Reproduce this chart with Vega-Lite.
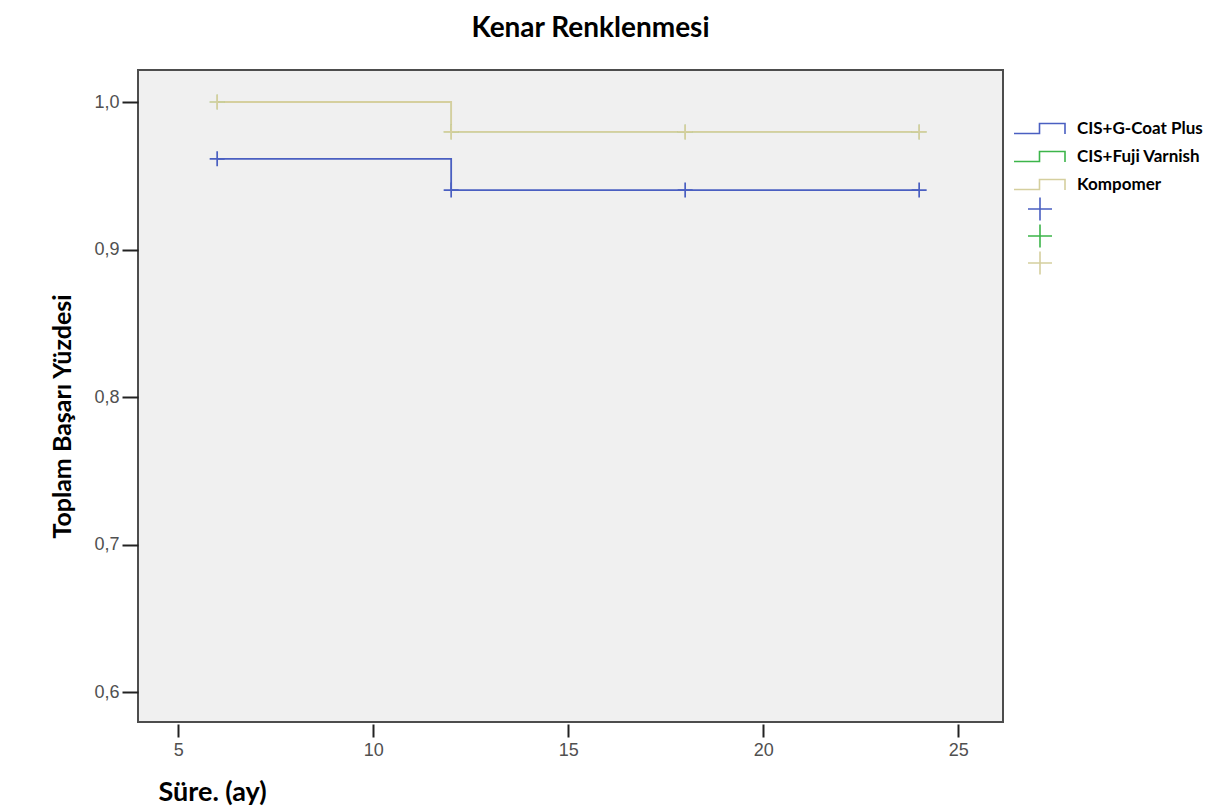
{
  "$schema": "https://vega.github.io/schema/vega-lite/v6.json",
  "width": 865,
  "height": 652,
  "autosize": {"type": "none"},
  "padding": {"left": 138, "top": 70, "right": 222, "bottom": 90},
  "background": "white",
  "title": {
    "text": "Kenar Renklenmesi",
    "font": "Lato",
    "fontSize": 28,
    "fontWeight": "bold",
    "color": "#000000",
    "anchor": "middle",
    "dx": 20,
    "baseline": "alphabetic",
    "offset": 5
  },
  "config": {
    "view": {"fill": "#f0f0f0", "stroke": "#4d4d4d", "strokeWidth": 2}
  },
  "data": {
    "values": [
      {"grp": "CIS+G-Coat Plus", "month": 6, "surv": 0.9615},
      {"grp": "CIS+G-Coat Plus", "month": 12, "surv": 0.9403},
      {"grp": "CIS+G-Coat Plus", "month": 24, "surv": 0.9403},
      {"grp": "CIS+Fuji Varnish", "month": 6, "surv": 1.0},
      {"grp": "CIS+Fuji Varnish", "month": 12, "surv": 0.9797},
      {"grp": "CIS+Fuji Varnish", "month": 24, "surv": 0.9797},
      {"grp": "\u00a0Kompomer", "month": 6, "surv": 1.0},
      {"grp": "\u00a0Kompomer", "month": 12, "surv": 0.9797},
      {"grp": "\u00a0Kompomer", "month": 24, "surv": 0.9797}
    ]
  },
  "datasets": {
    "cens": [
      {"k": "p1", "month": 6, "surv": 0.9615},
      {"k": "p1", "month": 12, "surv": 0.9403},
      {"k": "p1", "month": 18, "surv": 0.9403},
      {"k": "p1", "month": 24, "surv": 0.9403},
      {"k": "p2", "month": 6, "surv": 1.0},
      {"k": "p2", "month": 12, "surv": 0.9797},
      {"k": "p2", "month": 18, "surv": 0.9797},
      {"k": "p2", "month": 24, "surv": 0.9797},
      {"k": "p3", "month": 6, "surv": 1.0},
      {"k": "p3", "month": 12, "surv": 0.9797},
      {"k": "p3", "month": 18, "surv": 0.9797},
      {"k": "p3", "month": 24, "surv": 0.9797}
    ]
  },
  "encoding": {
    "x": {
      "field": "month",
      "type": "quantitative",
      "scale": {"domain": [3.97, 26.15], "nice": false, "zero": false},
      "axis": {
        "title": "Süre. (ay)",
        "values": [5, 10, 15, 20, 25],
        "grid": false,
        "domain": false,
        "tickSize": 13,
        "tickColor": "#222222",
        "tickWidth": 2,
        "offset": 2,
        "labelFont": "Liberation Sans",
        "labelFontSize": 18,
        "labelColor": "#505050",
        "labelPadding": 4,
        "titleFont": "Lato",
        "titleFontSize": 27,
        "titleFontWeight": "bold",
        "titleColor": "#000000",
        "titleAnchor": "start",
        "titleAlign": "left",
        "titleX": 20,
        "titleY": 76,
        "titleBaseline": "alphabetic"
      }
    },
    "y": {
      "field": "surv",
      "type": "quantitative",
      "scale": {"domain": [0.5797, 1.0217], "nice": false, "zero": false},
      "axis": {
        "title": "Toplam Başarı Yüzdesi",
        "values": [0.6, 0.7, 0.8, 0.9, 1.0],
        "labelExpr": "replace(format(datum.value, '.1f'), '.', ',')",
        "grid": false,
        "domain": false,
        "tickSize": 16,
        "tickColor": "#222222",
        "tickWidth": 2,
        "labelFont": "Liberation Sans",
        "labelFontSize": 18,
        "labelColor": "#505050",
        "labelPadding": 3,
        "titleFont": "Lato",
        "titleFontSize": 25,
        "titleFontWeight": "bold",
        "titleColor": "#000000",
        "titleAngle": -90,
        "titleAlign": "center",
        "titleBaseline": "middle",
        "titleX": -76,
        "titleY": 346
      }
    }
  },
  "layer": [
    {
      "transform": [{"filter": "datum.grp == 'CIS+Fuji Varnish'"}],
      "mark": {"type": "line", "interpolate": "step-after", "strokeWidth": 0.5},
      "encoding": {
        "color": {
          "field": "grp",
          "type": "nominal",
          "scale": {
            "domain": ["CIS+G-Coat Plus", "CIS+Fuji Varnish", "\u00a0Kompomer"],
            "range": ["#4a5fc1", "#3cb54a", "#d5cf9e"]
          }
        }
      }
    },
    {
      "transform": [{"filter": "datum.grp != 'CIS+Fuji Varnish'"}],
      "mark": {"type": "line", "interpolate": "step-after", "strokeWidth": 1.8},
      "encoding": {
        "color": {
          "field": "grp",
          "type": "nominal",
          "scale": {
            "domain": ["CIS+G-Coat Plus", "CIS+Fuji Varnish", "\u00a0Kompomer"],
            "range": ["#4a5fc1", "#3cb54a", "#d5cf9e"]
          },
          "legend": {
            "title": null,
            "orient": "none",
            "legendX": 893,
            "legendY": 50,
            "padding": 0,
            "symbolType": "M-5.1,1L0,1L0,-1L5.1,-1L5.1,1.1",
            "symbolSize": 100,
            "symbolStrokeWidth": 1.6,
            "labelFont": "Lato",
            "labelFontSize": 17,
            "labelFontWeight": "bold",
            "labelColor": "#000000",
            "labelOffset": 29,
            "rowPadding": 9,
            "encode": {"symbols": {"enter": {"strokeWidth": {"value": 1.6}}, "update": {"strokeWidth": {"value": 1.6}}}}
          }
        }
      }
    },
    {
      "data": {"name": "cens"},
      "transform": [{"filter": "datum.k == 'p2'"}],
      "mark": {
        "type": "point",
        "shape": "M-1,0L1,0M0,-1L0,1",
        "filled": false,
        "size": 225,
        "strokeWidth": 0.5,
        "opacity": 1
      },
      "encoding": {
        "stroke": {
          "field": "k",
          "type": "nominal",
          "scale": {
            "domain": ["p1", "p2", "p3"],
            "range": ["#4a5fc1", "#3cb54a", "#d5cf9e"]
          },
          "legend": {
            "title": null,
            "orient": "none",
            "legendX": 896,
            "legendY": 133,
            "padding": 0,
            "symbolType": "M-2.4,0L2.4,0M0,-2.3L0,2.3",
            "symbolSize": 100,
            "symbolStrokeWidth": 1.6,
            "labelExpr": "''",
            "rowPadding": -3,
            "encode": {"symbols": {"update": {"strokeWidth": {"value": 1.6}, "opacity": {"value": 1}}}}
          }
        }
      }
    },
    {
      "data": {"name": "cens"},
      "transform": [{"filter": "datum.k != 'p2'"}],
      "mark": {
        "type": "point",
        "shape": "M-1,0L1,0M0,-1L0,1",
        "filled": false,
        "size": 225,
        "strokeWidth": 1.7,
        "opacity": 1
      },
      "encoding": {
        "stroke": {
          "field": "k",
          "type": "nominal",
          "scale": {
            "domain": ["p1", "p2", "p3"],
            "range": ["#4a5fc1", "#3cb54a", "#d5cf9e"]
          }
        }
      }
    }
  ]
}
